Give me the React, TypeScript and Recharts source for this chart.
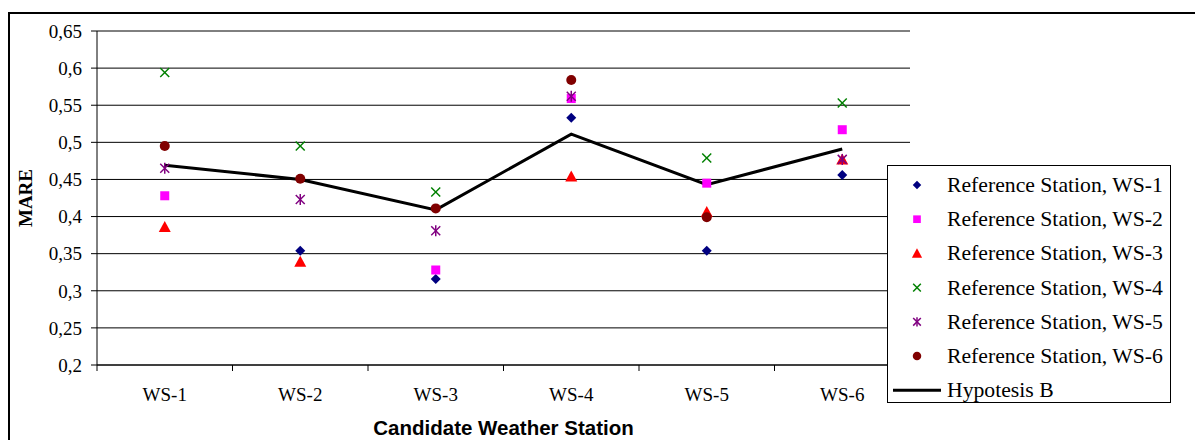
import React from 'react';
import { ComposedChart, Line, XAxis, YAxis, CartesianGrid, Legend } from 'recharts';

// Candidate stations on the x axis
const CATEGORIES = ['WS-1', 'WS-2', 'WS-3', 'WS-4', 'WS-5', 'WS-6'];

// MARE per reference station (null = the station itself, not plotted)
const WS1 = [null, 0.354, 0.316, 0.533, 0.354, 0.456];
const WS2 = [0.428, null, 0.328, 0.559, 0.445, 0.517];
const WS3 = [0.386, 0.339, null, 0.454, 0.406, 0.477];
const WS4 = [0.594, 0.495, 0.433, null, 0.479, 0.553];
const WS5 = [0.465, 0.423, 0.381, 0.562, null, 0.477];
const WS6 = [0.495, 0.451, 0.411, 0.584, 0.399, null];
const HYP_B = [0.469, 0.45, 0.409, 0.511, 0.443, 0.491];

const Y_TICKS = [0.2, 0.25, 0.3, 0.35, 0.4, 0.45, 0.5, 0.55, 0.6, 0.65];

const SERIES = [
  { key: 'ws1', name: 'Reference Station, WS-1', values: WS1, color: '#000080', shape: 'diamond' },
  { key: 'ws2', name: 'Reference Station, WS-2', values: WS2, color: '#FF00FF', shape: 'square' },
  { key: 'ws3', name: 'Reference Station, WS-3', values: WS3, color: '#FF0000', shape: 'triangle' },
  { key: 'ws4', name: 'Reference Station, WS-4', values: WS4, color: '#008000', shape: 'cross' },
  { key: 'ws5', name: 'Reference Station, WS-5', values: WS5, color: '#800080', shape: 'star' },
  { key: 'ws6', name: 'Reference Station, WS-6', values: WS6, color: '#800000', shape: 'circle' },
];

const data = CATEGORIES.map((name, i) => {
  const row: Record<string, any> = { name, hypB: HYP_B[i] };
  SERIES.forEach((s) => (row[s.key] = s.values[i]));
  return row;
});

const W = 1195;
const H = 440;
const PLOT_LEFT = 97;
const PLOT_RIGHT = 910;
const PLOT_TOP = 31;
const PLOT_BOTTOM = 365;
const BAND = (PLOT_RIGHT - PLOT_LEFT) / CATEGORIES.length;
const SERIF = '"Liberation Serif", "Times New Roman", serif';

function Marker({ shape, color, cx, cy, s = 1 }: any) {
  const r = 5 * s;
  switch (shape) {
    case 'diamond':
      return <polygon points={`${cx},${cy - r} ${cx + r},${cy} ${cx},${cy + r} ${cx - r},${cy}`} fill={color} />;
    case 'square':
      return <rect x={cx - 4.5 * s} y={cy - 4.5 * s} width={9 * s} height={9 * s} fill={color} />;
    case 'triangle':
      return <polygon points={`${cx},${cy - 6 * s} ${cx + 6 * s},${cy + 5 * s} ${cx - 6 * s},${cy + 5 * s}`} fill={color} />;
    case 'cross':
      return (
        <g stroke={color} strokeWidth={1.5}>
          <line x1={cx - 4.5 * s} y1={cy - 4.5 * s} x2={cx + 4.5 * s} y2={cy + 4.5 * s} />
          <line x1={cx - 4.5 * s} y1={cy + 4.5 * s} x2={cx + 4.5 * s} y2={cy - 4.5 * s} />
        </g>
      );
    case 'star':
      return (
        <g stroke={color} strokeWidth={1.5}>
          <line x1={cx - 4.5 * s} y1={cy - 4.5 * s} x2={cx + 4.5 * s} y2={cy + 4.5 * s} />
          <line x1={cx - 4.5 * s} y1={cy + 4.5 * s} x2={cx + 4.5 * s} y2={cy - 4.5 * s} />
          <line x1={cx} y1={cy - 5.5 * s} x2={cx} y2={cy + 5.5 * s} />
        </g>
      );
    default:
      return <circle cx={cx} cy={cy} r={r} fill={color} />;
  }
}

function makeDot(shape: string, color: string, key: string) {
  return (p: any) => {
    if (p.value == null || p.cy == null || isNaN(p.cy)) return <g key={`${key}-${p.index}`} />;
    return (
      <g key={`${key}-${p.index}`}>
        <Marker shape={shape} color={color} cx={p.cx} cy={p.cy} />
      </g>
    );
  };
}

function XTick(props: any) {
  const { x, index, payload } = props;
  return (
    <g>
      <line x1={x - BAND / 2} x2={x - BAND / 2} y1={PLOT_BOTTOM} y2={PLOT_BOTTOM + 6} stroke="#000" />
      {index === CATEGORIES.length - 1 && (
        <line x1={x + BAND / 2} x2={x + BAND / 2} y1={PLOT_BOTTOM} y2={PLOT_BOTTOM + 6} stroke="#000" />
      )}
      <text x={x} y={PLOT_BOTTOM + 36} textAnchor="middle" fontFamily={SERIF} fontSize={19} fill="#000">
        {payload.value}
      </text>
    </g>
  );
}

function LegendBox() {
  const rowY = (i: number) => 20 + i * 34.2;
  return (
    <svg width={284} height={238} style={{ display: 'block' }}>
      <rect x={0.5} y={0.5} width={283} height={237} fill="#fff" stroke="#000" strokeWidth={1} />
      {SERIES.map((s, i) => (
        <g key={s.key}>
          <Marker shape={s.shape} color={s.color} cx={30} cy={rowY(i)} s={0.85} />
          <text x={60} y={rowY(i) + 7} fontFamily={SERIF} fontSize={21.7} fill="#000">
            {s.name}
          </text>
        </g>
      ))}
      <line x1={6} x2={54} y1={rowY(6)} y2={rowY(6)} stroke="#000" strokeWidth={3} />
      <text x={60} y={rowY(6) + 7} fontFamily={SERIF} fontSize={21.7} fill="#000">
        Hypotesis B
      </text>
    </svg>
  );
}

export default function App() {
  return (
    <div style={{ position: 'fixed', left: 0, top: 0, width: W, height: H, overflow: 'hidden', background: '#fff' }}>
      <div
        style={{
          position: 'absolute',
          left: 8,
          top: 12,
          width: 1300,
          height: 600,
          border: '2px solid #000',
        }}
      />
      <div style={{ position: 'absolute', left: 0, top: 0 }}>
        <ComposedChart width={W} height={H} data={data} margin={{ top: PLOT_TOP, right: W - PLOT_RIGHT, bottom: 0, left: 0 }}>
          <CartesianGrid horizontal vertical={false} stroke="#000" strokeWidth={1} />
          <XAxis
            dataKey="name"
            scale="band"
            interval={0}
            height={H - PLOT_BOTTOM}
            axisLine={{ stroke: '#000' }}
            tickLine={false}
            tick={<XTick />}
            label={{
              content: (lp: any) => {
                const vb = lp.viewBox || {};
                return (
                  <text
                    x={vb.x + vb.width / 2}
                    y={PLOT_BOTTOM + 70}
                    textAnchor="middle"
                    fontFamily='"Liberation Sans", Arial, sans-serif'
                    fontWeight="bold"
                    fontSize={20.5}
                    fill="#000"
                  >
                    Candidate Weather Station
                  </text>
                );
              },
            }}
          />
          <YAxis
            width={PLOT_LEFT}
            domain={[0.2, 0.65]}
            ticks={Y_TICKS}
            interval={0}
            allowDataOverflow
            axisLine={{ stroke: '#000' }}
            tickLine={{ stroke: '#000' }}
            tickSize={6}
            tickMargin={9}
            tick={{ fill: '#000', fontFamily: SERIF, fontSize: 19 }}
            tickFormatter={(v: number) => String(v).replace('.', ',')}
            label={{
              content: () => (
                <text
                  x={25}
                  y={(PLOT_TOP + PLOT_BOTTOM) / 2}
                  transform={`rotate(-90, 25, ${(PLOT_TOP + PLOT_BOTTOM) / 2})`}
                  textAnchor="middle"
                  dy="0.35em"
                  fontFamily={SERIF}
                  fontWeight="bold"
                  fontSize={19}
                  fill="#000"
                >
                  MARE
                </text>
              ),
            }}
          />
          <YAxis
            yAxisId="right"
            orientation="right"
            width={0}
            domain={[0.2, 0.65]}
            tick={false}
            tickLine={false}
            axisLine={{ stroke: '#808080' }}
          />
          <Line
            dataKey="hypB"
            name="Hypotesis B"
            stroke="#000"
            strokeWidth={3}
            dot={false}
            activeDot={false}
            isAnimationActive={false}
          />
          {SERIES.map((s) => (
            <Line
              key={s.key}
              dataKey={s.key}
              name={s.name}
              stroke="none"
              strokeWidth={0}
              dot={makeDot(s.shape, s.color, s.key)}
              activeDot={false}
              connectNulls={false}
              isAnimationActive={false}
            />
          ))}
          <Legend
            layout="vertical"
            align="center"
            verticalAlign="middle"
            wrapperStyle={{ left: 887, top: 165, width: 284, height: 238 }}
            content={() => <LegendBox />}
          />
        </ComposedChart>
      </div>
    </div>
  );
}
